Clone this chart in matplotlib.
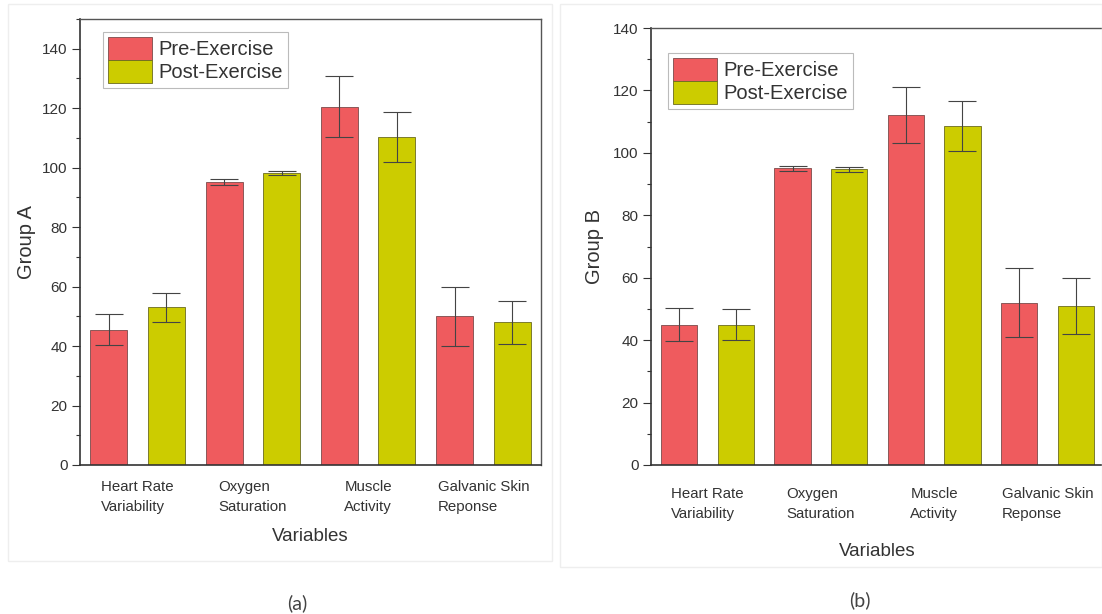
import numpy as np
import matplotlib.pyplot as plt
from matplotlib.patches import Rectangle
from matplotlib.ticker import MultipleLocator

plt.rcParams["font.family"] = ["Liberation Sans", "DejaVu Sans"]

categories = ["Heart Rate\nVariability", "Oxygen\nSaturation",
              "Muscle\nActivity", "Galvanic Skin\nReponse"]
series_names = ["Pre-Exercise", "Post-Exercise"]

# group A means and error values
a_pre = [45.5, 95.3, 120.5, 50.0]
a_pre_err = [5.3, 1.0, 10.2, 10.0]
a_post = [53.0, 98.2, 110.3, 48.0]
a_post_err = [4.8, 0.7, 8.4, 7.2]

# group B means and error values
b_pre = [45.0, 95.0, 112.0, 52.0]
b_pre_err = [5.2, 0.8, 9.0, 11.0]
b_post = [45.0, 94.7, 108.5, 51.0]
b_post_err = [5.0, 0.9, 8.0, 9.0]

red = "#ef5b5e"
yellow = "#cccc00"
txt = "#333333"

W, H = 1102, 614
fig = plt.figure(figsize=(W / 100, H / 100), dpi=100)

# faint outlines of the two exported panels
for x0, x1, y1 in [(8, 552, 561), (560, 1102, 567)]:
    fig.patches.append(Rectangle((x0 / W, 1 - y1 / H), (x1 - x0) / W, (y1 - 4) / H,
                                 transform=fig.transFigure, fill=False,
                                 edgecolor="#eeeeee", linewidth=1.0))


def px_axes(left, right, top, bottom):
    return fig.add_axes([left / W, 1 - bottom / H, (right - left) / W, (bottom - top) / H])


def draw(ax, pre, pre_err, post, post_err, ylabel, ymax, leg_anchor,
         ylab_x, tick_pad, xlab_pad):
    x = np.arange(len(categories))
    w = 0.32
    ekw = dict(ecolor="#444444", elinewidth=0.8, capsize=10, capthick=0.8)
    b1 = ax.bar(x - 0.25, pre, w, yerr=pre_err, color=red, edgecolor="#7a4a4a",
                linewidth=0.6, error_kw=ekw, label=series_names[0])
    b2 = ax.bar(x + 0.25, post, w, yerr=post_err, color=yellow, edgecolor="#6b6b20",
                linewidth=0.6, error_kw=ekw, label=series_names[1])
    ax.set_xlim(-0.5, 3.5)
    ax.yaxis.set_major_locator(MultipleLocator(20))
    ax.yaxis.set_minor_locator(MultipleLocator(10))
    ax.set_yticks(np.arange(0, 141, 20))
    ax.set_ylim(0, ymax)
    ax.tick_params(axis="y", which="major", direction="out", length=6, width=0.8,
                   labelsize=11, colors=txt, pad=3)
    ax.tick_params(axis="y", which="minor", direction="out", length=3, width=0.8, colors=txt)
    ax.set_xticks(x)
    ax.set_xticklabels(categories, fontsize=10.8, color=txt, linespacing=1.5,
                       multialignment="left")
    ax.tick_params(axis="x", length=0, pad=tick_pad)
    for s in ["left", "bottom"]:
        ax.spines[s].set_color("#333333")
        ax.spines[s].set_linewidth(1.2)
    for s in ["top", "right"]:
        ax.spines[s].set_color("#555555")
        ax.spines[s].set_linewidth(1.0)
    ax.set_xlabel("Variables", fontsize=13.5, color=txt, labelpad=xlab_pad)
    ax.set_ylabel(ylabel, fontsize=14.5, color=txt)
    ax.yaxis.set_label_coords(ylab_x, 0.5)
    leg = ax.legend(handles=[b1, b2], loc="upper left", bbox_to_anchor=leg_anchor,
                    fontsize=14.5, frameon=True, fancybox=False, handlelength=2.2,
                    handleheight=1.35, labelspacing=0.02, handletextpad=0.3,
                    borderpad=0.25, borderaxespad=0)
    leg.get_frame().set_edgecolor("#aaaaaa")
    leg.get_frame().set_linewidth(0.8)
    for t in leg.get_texts():
        t.set_color(txt)


ax1 = px_axes(80, 541, 19, 465)
draw(ax1, a_pre, a_pre_err, a_post, a_post_err, "Group A", 150, (0.05, 0.971),
     -0.095, 11, 10)

ax2 = px_axes(651, 1104, 28, 465)
draw(ax2, b_pre, b_pre_err, b_post, b_post_err, "Group B", 140, (0.0375, 0.943),
     -0.103, 16, 16)

fig.text(297 / W, 1 - 603 / H, "(a)", ha="center", va="center", fontsize=14,
         color="#444444", family=["Lato", "DejaVu Sans"])
fig.text(860 / W, 1 - 600 / H, "(b)", ha="center", va="center", fontsize=14,
         color="#444444", family=["Lato", "DejaVu Sans"])

fig.savefig("out.png", dpi=100)
